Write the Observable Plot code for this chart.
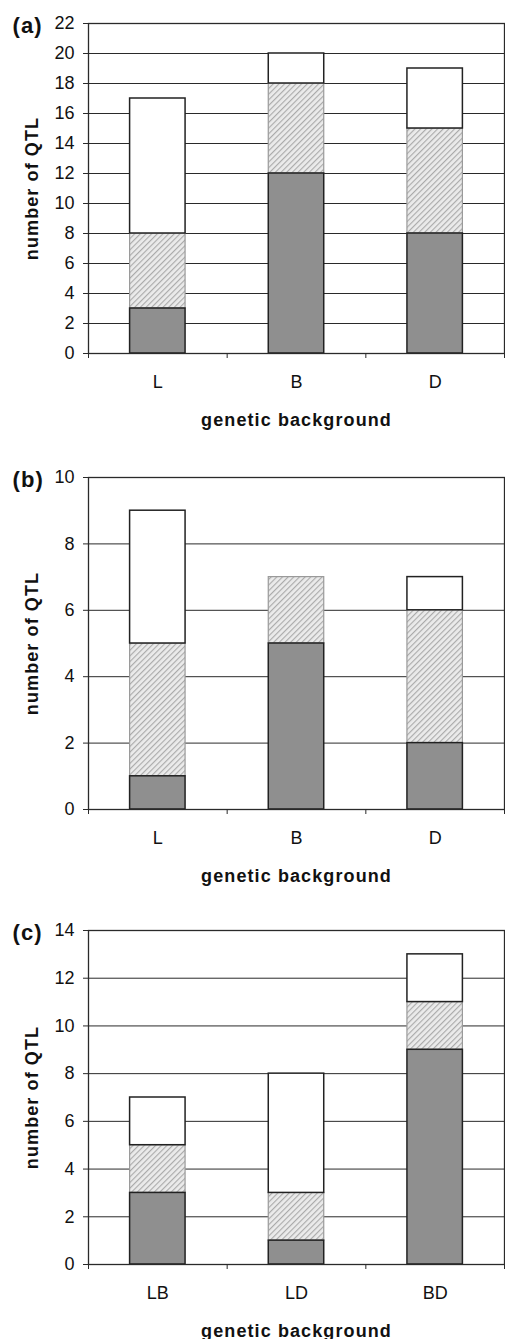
<!DOCTYPE html>
<html>
<head>
<meta charset="utf-8">
<script src="https://cdn.jsdelivr.net/npm/d3@7"></script>
<script src="https://cdn.jsdelivr.net/npm/@observablehq/plot@0.6"></script>
<style>
  body { margin: 0; background: #fff; width: 505px; }
  #defs { position: absolute; width: 0; height: 0; }
  #chart svg { display: block; }
</style>
</head>
<body>
<svg id="defs" aria-hidden="true">
  <defs>
    <pattern id="hatch" patternUnits="userSpaceOnUse" width="4" height="4" patternTransform="rotate(45)">
      <rect width="4" height="4" fill="#ebebeb"></rect>
      <line x1="0.6" y1="0" x2="0.6" y2="4" stroke="#a8a8a8" stroke-width="1.1"></line>
    </pattern>
  </defs>
</svg>
<div id="chart"></div>
<script>
// ---- data ----
const panelLabels = ["(a)", "(b)", "(c)"];

const catsA = ["L", "B", "D"];
const darkA = [3, 12, 8];
const hatchA = [5, 6, 7];
const whiteA = [9, 2, 4];
const yTicksA = [0, 2, 4, 6, 8, 10, 12, 14, 16, 18, 20, 22];

const catsB = ["L", "B", "D"];
const darkB = [1, 5, 2];
const hatchB = [4, 2, 4];
const whiteB = [4, 0, 1];
const yTicksB = [0, 2, 4, 6, 8, 10];

const catsC = ["LB", "LD", "BD"];
const darkC = [3, 1, 9];
const hatchC = [2, 2, 2];
const whiteC = [2, 5, 2];
const yTicksC = [0, 2, 4, 6, 8, 10, 12, 14];

const xTitle = "genetic background";
const yTitle = "number of QTL";

// ---- drawing ----
const FONT = "'Liberation Sans', Arial, Helvetica, sans-serif";

function panel({label, cats, dark, hatch, white, yTicks, height, marginTop, marginBottom}) {
  const rows = [];
  cats.forEach((c, i) => {
    let base = 0;
    for (const [seg, v] of [["dark", dark[i]], ["hatch", hatch[i]], ["white", white[i]]]) {
      if (v > 0) rows.push({i, cat: c, seg, y1: base, y2: base + v});
      base += v;
    }
  });
  const n = cats.length;
  const bx1 = d => d.i + 0.3, bx2 = d => d.i + 0.7;
  const svg = Plot.plot({
    width: 505,
    height,
    marginTop,
    marginBottom,
    marginLeft: 88,
    marginRight: 1,
    style: {fontFamily: FONT, fontSize: "18px", color: "#111", background: "#fff", overflow: "visible"},
    x: {type: "linear", domain: [0, n], label: null},
    y: {domain: [0, yTicks[yTicks.length - 1]], label: null},
    marks: [
      Plot.gridY(yTicks, {stroke: "#2a2a2a", strokeOpacity: 1, strokeWidth: 1}),
      Plot.rectY(rows.filter(d => d.seg === "hatch"), {x1: bx1, x2: bx2, y1: "y1", y2: "y2", fill: "url(#hatch)", stroke: "#9a9a9a", strokeWidth: 1.2}),
      Plot.rectY(rows.filter(d => d.seg === "dark"), {x1: bx1, x2: bx2, y1: "y1", y2: "y2", fill: "#8f8f8f", stroke: "#222", strokeWidth: 1.5}),
      Plot.rectY(rows.filter(d => d.seg === "white"), {x1: bx1, x2: bx2, y1: "y1", y2: "y2", fill: "#fff", stroke: "#222", strokeWidth: 1.5}),
      Plot.frame({stroke: "#2a2a2a", strokeWidth: 1.3}),
      Plot.axisY(yTicks, {tickSize: 5, tickPadding: 9, fontSize: 18, label: null, stroke: "#2a2a2a"}),
      Plot.axisX(d3.range(n + 1), {tickSize: 5, tickFormat: () => "", label: null, stroke: "#2a2a2a"}),
      Plot.axisX(d3.range(n).map(i => i + 0.5), {tickSize: 0, tickPadding: 22, fontSize: 18, label: null, tickFormat: d => cats[Math.floor(d)]}),
      Plot.text([label], {frameAnchor: "top-left", dx: -76, dy: 2, textAnchor: "start", lineAnchor: "middle", fontSize: 22, fontWeight: "bold"}),
      Plot.text([yTitle], {frameAnchor: "left", dx: -56, rotate: -90, textAnchor: "middle", lineAnchor: "middle", fontSize: 18, fontWeight: "bold"}),
      Plot.text([xTitle], {frameAnchor: "bottom", dy: 72, textAnchor: "middle", lineAnchor: "bottom", fontSize: 18, fontWeight: "bold"})
    ]
  });
  const s = d3.select(svg);
  s.selectAll("g[font-weight='bold'] text").style("letter-spacing", "1.1px");
  s.selectAll("g[aria-label$='tick label'] text").style("fill", "#111");
  return svg;
}

const chart = document.getElementById("chart");
chart.append(panel({label: panelLabels[0], cats: catsA, dark: darkA, hatch: hatchA, white: whiteA, yTicks: yTicksA, height: 440, marginTop: 23, marginBottom: 87}));
chart.append(panel({label: panelLabels[1], cats: catsB, dark: darkB, hatch: hatchB, white: whiteB, yTicks: yTicksB, height: 453, marginTop: 37, marginBottom: 84}));
chart.append(panel({label: panelLabels[2], cats: catsC, dark: darkC, hatch: hatchC, white: whiteC, yTicks: yTicksC, height: 446, marginTop: 37, marginBottom: 75}));
</script>
</body>
</html>
